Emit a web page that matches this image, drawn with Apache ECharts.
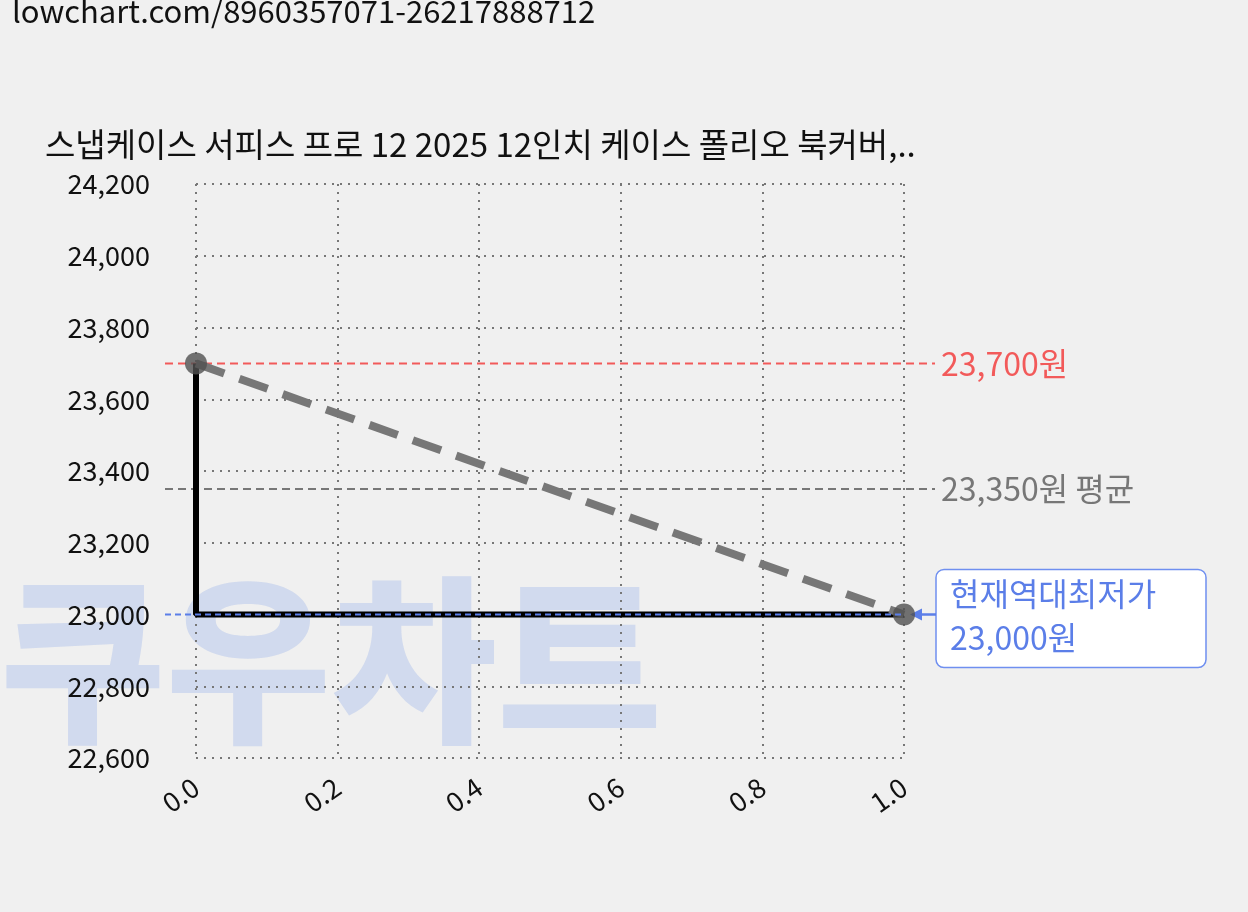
<!DOCTYPE html>
<html><head><meta charset="utf-8">
<script src="https://cdn.jsdelivr.net/npm/echarts@6/dist/echarts.min.js"></script>
<style>html,body{margin:0;background:#f0f0f0}#c{width:1248px;height:912px}</style></head>
<body><div id="c"></div>
<script>
const xVals=[0,1];
const priceVals=[23700,23000];
const maxPrice=23700, avgPrice=23350, minPrice=23000;
const F='"Noto Sans CJK KR","Noto Sans",sans-serif';
const ch=echarts.init(document.getElementById('c'));
const grid={type:[2,6],color:'#777',width:2};
ch.setOption({
 backgroundColor:'#f0f0f0',
 animation:false,
 grid:{left:196,right:344,top:184,bottom:154},
 xAxis:{type:'value',min:0,max:1,interval:0.2,
  axisLine:{show:false},axisTick:{show:false},
  axisLabel:{rotate:35,fontSize:27,color:'#111',fontFamily:F,margin:26,formatter:v=>v.toFixed(1)},
  splitLine:{show:true,lineStyle:grid}},
 yAxis:{type:'value',min:22600,max:24200,interval:200,
  axisLine:{show:false},axisTick:{show:false},
  axisLabel:{fontSize:27,color:'#111',fontFamily:F,margin:46,formatter:v=>v.toLocaleString('en-US')},
  splitLine:{show:true,lineStyle:grid}},
 series:[
  {type:'line',data:[[xVals[0],priceVals[0]],[xVals[0],priceVals[1]],[xVals[1],priceVals[1]]],symbol:'none',lineStyle:{color:'#000',width:6},z:3},
  {type:'line',data:xVals.map((x,i)=>[x,priceVals[i]]),symbol:'circle',symbolSize:22,
   itemStyle:{color:'rgba(80,80,80,0.8)'},lineStyle:{color:'#777',width:8,type:[30,16]},z:4}
 ]
});
const P=(x,y)=>ch.convertToPixel({gridIndex:0},[x,y]);
const yMax=P(0,maxPrice)[1], yAvg=P(0,avgPrice)[1], yMin=P(0,minPrice)[1];
const x1=P(1,0)[0];
ch.setOption({graphic:[
 {type:'text',left:12,top:-4,style:{text:'lowchart.com/8960357071-26217888712',fontSize:31,fill:'#111',fontFamily:F}},
 {type:'text',left:45,top:128,style:{text:'스냅케이스 서피스 프로 12 2025 12인치 케이스 폴리오 북커버,..',fontSize:33,fill:'#111',fontFamily:F}},
 {type:'text',left:0,top:570,z:-10,style:{text:'쿠우차트',fontSize:180,fontWeight:900,fill:'rgba(170,190,235,0.45)',fontFamily:F}},
 {type:'line',shape:{x1:165,y1:yMax,x2:935,y2:yMax},style:{stroke:'#f25a5a',lineWidth:2,lineDash:[8,5]},z:2},
 {type:'text',x:941,y:yMax,style:{text:'23,700원',fontSize:32,fill:'#f25a5a',fontFamily:F,textVerticalAlign:'middle'}},
 {type:'line',shape:{x1:165,y1:yAvg,x2:935,y2:yAvg},style:{stroke:'#777',lineWidth:2,lineDash:[8,5]},z:2},
 {type:'text',x:941,y:yAvg,style:{text:'23,350원 평균',fontSize:32,fill:'#777',fontFamily:F,textVerticalAlign:'middle'}},
 {type:'line',shape:{x1:165,y1:yMin,x2:x1,y2:yMin},style:{stroke:'#5b7ee8',lineWidth:2,lineDash:[6,4]},z:5},
 {type:'rect',shape:{x:936,y:yMin-45,width:270,height:98,r:8},style:{fill:'#fff',stroke:'#6f8ff0',lineWidth:1.5}},
 {type:'text',x:950,y:yMin-43,style:{text:'현재역대최저가\n23,000원',fontSize:32,lineHeight:44,fill:'#5b7ee8',fontFamily:F}},
 {type:'line',shape:{x1:936,y1:yMin,x2:912,y2:yMin},style:{stroke:'#5b7ee8',lineWidth:2.5}},
 {type:'polygon',shape:{points:[[910,yMin],[922,yMin-6],[922,yMin+6]]},style:{fill:'#5b7ee8'}}
]});
</script></body></html>
